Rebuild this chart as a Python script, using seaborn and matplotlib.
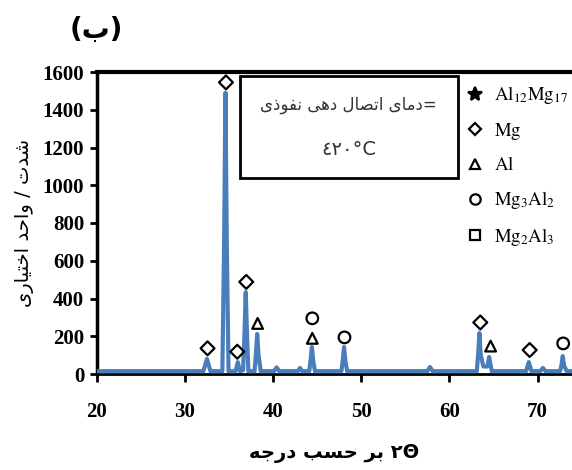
import matplotlib
matplotlib.use("Agg")
import matplotlib.pyplot as plt
from matplotlib.lines import Line2D
from matplotlib.patches import Rectangle
import seaborn as sns
import pandas as pd

# xrd pattern (2theta, counts)
two_theta = [20, 32.1, 32.5, 32.9, 34.25, 34.45, 34.6, 34.75, 34.95, 35.75, 36.0, 36.25,
             36.6, 36.75, 36.9, 37.05, 37.2, 37.9, 38.05, 38.2, 38.35, 38.6, 40.1, 40.4, 40.7,
             42.8, 43.05, 43.3, 44.1, 44.25, 44.4, 44.55, 44.75, 47.75, 47.9, 48.05, 48.2, 48.4,
             57.5, 57.8, 58.1, 63.1, 63.25, 63.4, 63.55, 63.85, 64.3, 64.5, 64.8, 68.7, 69.0,
             69.3, 70.3, 70.6, 70.9, 72.55, 72.7, 72.85, 73.0, 73.3, 73.9]
counts = [15, 15, 80, 15, 15, 700, 1490, 700, 15, 15, 63, 15,
          20, 200, 434, 200, 15, 15, 100, 212, 100, 15, 15, 35, 15,
          15, 32, 15, 15, 70, 143, 70, 15, 15, 70, 143, 70, 15,
          15, 37, 15, 15, 100, 217, 100, 40, 40, 90, 15, 15, 63,
          15, 15, 32, 15, 15, 45, 95, 45, 15, 15]

# phase markers (2theta, counts)
mg_x = [32.57, 34.66, 35.94, 36.96, 63.5, 69.1]
mg_y = [136, 1545, 118, 488, 273, 127]
al_x = [38.25, 44.45, 64.67]
al_y = [268, 189, 148]
mg3al2_x = [44.45, 48.1, 72.9]
mg3al2_y = [295, 194, 162]

legend_labels = [r"$\mathrm{Al_{12}Mg_{17}}$", r"$\mathrm{Mg}$", r"$\mathrm{Al}$",
                 r"$\mathrm{Mg_3Al_2}$", r"$\mathrm{Mg_2Al_3}$"]
legend_markers = ["*", "D", "^", "o", "s"]

# minimal arabic shaping (matplotlib has no shaping engine)
FORMS = {
    'ا': ('\uFE8D', '\uFE8E', None, None),
    'ب': ('\uFE8F', '\uFE90', '\uFE91', '\uFE92'),
    'ت': ('\uFE95', '\uFE96', '\uFE97', '\uFE98'),
    'ج': ('\uFE9D', '\uFE9E', '\uFE9F', '\uFEA0'),
    'ح': ('\uFEA1', '\uFEA2', '\uFEA3', '\uFEA4'),
    'خ': ('\uFEA5', '\uFEA6', '\uFEA7', '\uFEA8'),
    'د': ('\uFEA9', '\uFEAA', None, None),
    'ذ': ('\uFEAB', '\uFEAC', None, None),
    'ر': ('\uFEAD', '\uFEAE', None, None),
    'س': ('\uFEB1', '\uFEB2', '\uFEB3', '\uFEB4'),
    'ش': ('\uFEB5', '\uFEB6', '\uFEB7', '\uFEB8'),
    'ص': ('\uFEB9', '\uFEBA', '\uFEBB', '\uFEBC'),
    'ف': ('\uFED1', '\uFED2', '\uFED3', '\uFED4'),
    'ل': ('\uFEDD', '\uFEDE', '\uFEDF', '\uFEE0'),
    'م': ('\uFEE1', '\uFEE2', '\uFEE3', '\uFEE4'),
    'ن': ('\uFEE5', '\uFEE6', '\uFEE7', '\uFEE8'),
    'ه': ('\uFEE9', '\uFEEA', '\uFEEB', '\uFEEC'),
    'و': ('\uFEED', '\uFEEE', None, None),
    'ی': ('\uFBFC', '\uFBFD', '\uFBFE', '\uFBFF'),
}


def rtl(s):
    out = []
    for i, c in enumerate(s):
        if c not in FORMS:
            out.append(c)
            continue
        prev = s[i - 1] if i > 0 else ''
        nxt = s[i + 1] if i + 1 < len(s) else ''
        join_prev = prev in FORMS and FORMS[prev][2] is not None
        join_next = nxt in FORMS and FORMS[c][2] is not None
        iso, fin, ini, med = FORMS[c]
        if join_prev and join_next:
            out.append(med)
        elif join_prev:
            out.append(fin)
        elif join_next:
            out.append(ini)
        else:
            out.append(iso)
    return ''.join(out)[::-1]


sns.set_style("ticks")
plt.rcParams['font.family'] = ['Liberation Serif', 'DejaVu Sans']
plt.rcParams['mathtext.fontset'] = 'stix'
plt.rcParams['text.color'] = 'black'
plt.rcParams['axes.edgecolor'] = 'black'
plt.rcParams['axes.labelcolor'] = 'black'
plt.rcParams['xtick.color'] = 'black'
plt.rcParams['ytick.color'] = 'black'

fig = plt.figure(figsize=(5.72, 4.70), dpi=100)
ax = fig.add_axes([96.7 / 572, 1 - 374 / 470, 1 - 96.7 / 572, 302 / 470])

df = pd.DataFrame({"two_theta": two_theta, "counts": counts})
sns.lineplot(data=df, x="two_theta", y="counts", ax=ax, color="#4a7ebb", lw=3, zorder=3)

mk = dict(facecolors="none", edgecolors="black", linewidths=1.6, zorder=4)
ax.scatter(mg_x, mg_y, marker="D", s=50, **mk)
ax.scatter(al_x, al_y, marker="^", s=60, **mk)
ax.scatter(mg3al2_x, mg3al2_y, marker="o", s=70, **mk)

ax.set_xlim(20, 73.9)
ax.set_ylim(0, 1600)
ax.set_xticks([20, 30, 40, 50, 60, 70])
ax.set_yticks(range(0, 1601, 200))
for lab in ax.get_xticklabels() + ax.get_yticklabels():
    lab.set_fontweight("bold")
    lab.set_fontsize(15)
ax.tick_params(axis="x", direction="out", length=6, width=2, pad=14)
ax.tick_params(axis="y", direction="out", length=5, width=2, pad=4)

ax.spines["left"].set_linewidth(2.5)
ax.spines["top"].set_visible(True)
ax.spines["top"].set_linewidth(3)
ax.spines["bottom"].set_linewidth(2)
ax.spines["right"].set_visible(False)

ax.set_xlabel(rtl("بر حسب درجه") + " ۲Θ", family="DejaVu Sans", fontsize=14,
              fontweight="bold", labelpad=16)
ax.set_ylabel(rtl("شدت / واحد اختیاری"), family="DejaVu Sans", fontsize=14, labelpad=6)

# annotation box
ax.add_patch(Rectangle((0.302, 0.649), 0.459, 0.338, transform=ax.transAxes,
                       fill=False, edgecolor="black", lw=2, zorder=5))
ax.text(0.53, 0.89, rtl("دمای اتصال دهی نفوذی") + "=", transform=ax.transAxes,
        ha="center", va="center", family="DejaVu Sans", fontsize=12, color="#333333")
ax.text(0.53, 0.745, "٤٢٠°C", transform=ax.transAxes, ha="center", va="center",
        family="DejaVu Sans", fontsize=14, color="#333333")

handles = []
for m in legend_markers:
    handles.append(Line2D([], [], ls="none", marker=m,
                          markerfacecolor="none" if m != "*" else "black",
                          markeredgecolor="black", markeredgewidth=1.6,
                          markersize=10 if m == "*" else (6 if m == "D" else 7.5)))
leg = ax.legend(handles, legend_labels, loc="upper left", bbox_to_anchor=(0.755, 1.0),
                frameon=False, fontsize=13.5, handlelength=0.8, handletextpad=0.6,
                labelspacing=0.78, borderaxespad=0.25)

fig.text(70 / 572, 1 - 30 / 470, "(ب)", family="DejaVu Sans", fontsize=20,
         fontweight="bold", va="center", ha="left")

fig.savefig("out.png", dpi=100)
